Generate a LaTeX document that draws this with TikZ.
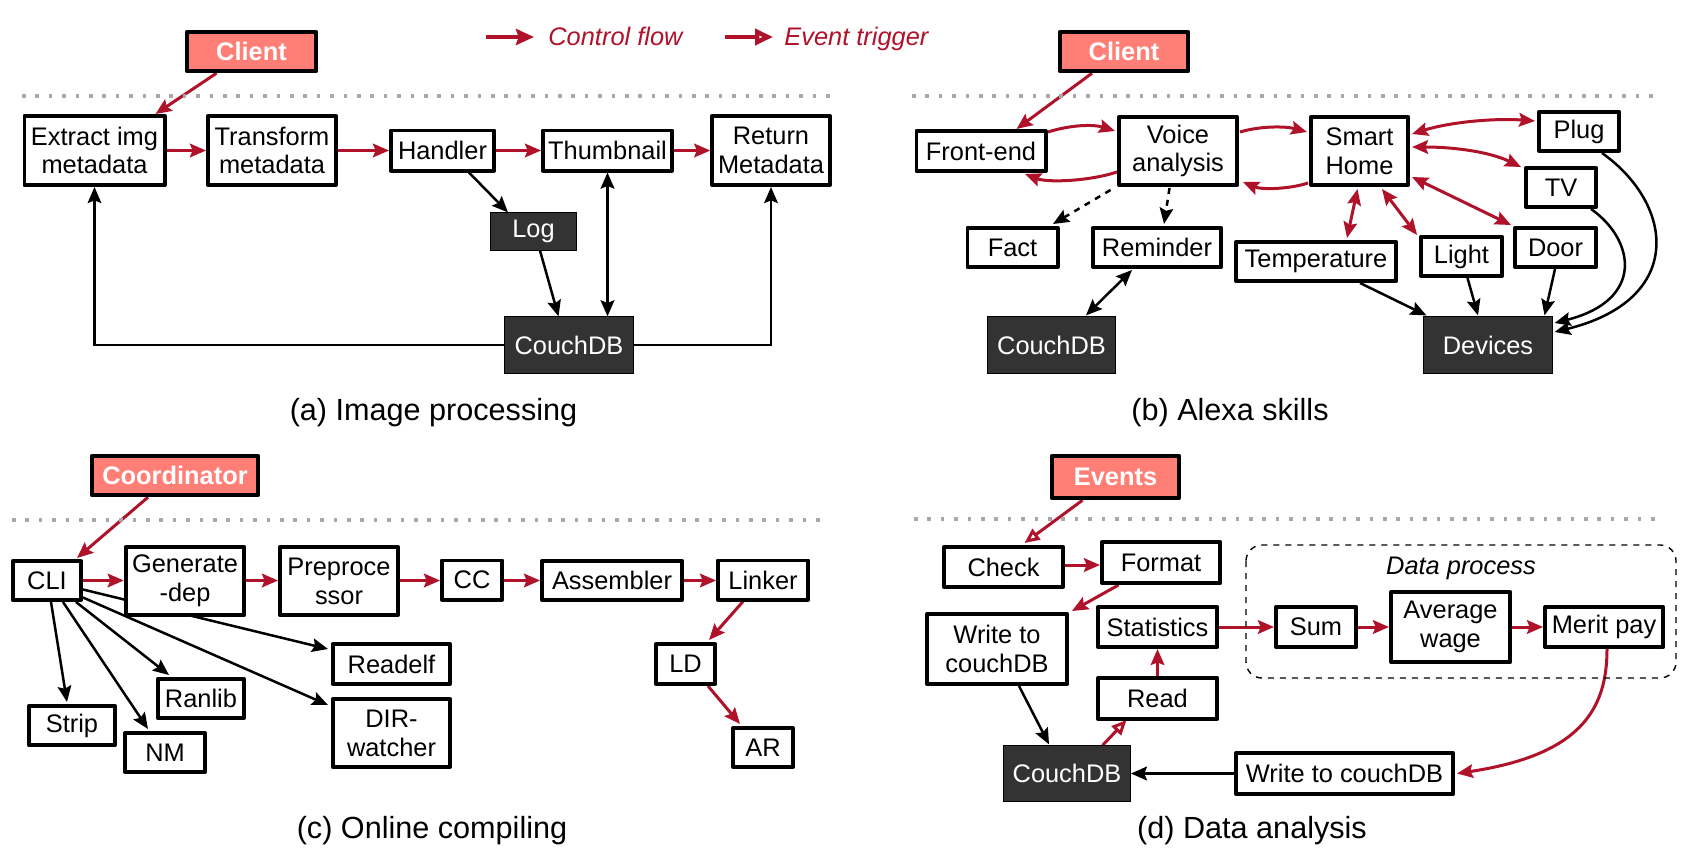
\documentclass[tikz,border=0pt]{standalone}
\usepackage{fontspec}
\setmainfont{Liberation Sans}
\usetikzlibrary{arrows.meta,calc,backgrounds}
\definecolor{crim}{HTML}{B0122A}
\definecolor{salm}{HTML}{FF7F77}
\definecolor{dark}{HTML}{333333}
\definecolor{dotg}{HTML}{A8A8A8}
\newcommand\fsbox{\fontsize{12.7}{14.4}\selectfont}
\newcommand\fscap{\fontsize{15.3}{18}\selectfont}
\tikzset{
  box/.style={draw=black, line width=1.9pt, line join=round, fill=white, inner sep=0pt, align=center, font=\fsbox},
  src/.style={draw=black, line width=2.1pt, line join=round, fill=salm, inner sep=0pt, text=white, font=\fsbox\bfseries},
  dbox/.style={draw=black, line width=0.5pt, fill=dark, inner sep=0pt, text=white, font=\fsbox},
  sz/.style 2 args={minimum width=#1*0.5pt-1.9pt, minimum height=#2*0.5pt-1.9pt},
  tip/.tip={Stealth[length=8pt,width=6.8pt,inset=1.3pt]},
  redarr/.style={draw=crim, line width=1.5pt, -tip},
  redboth/.style={draw=crim, line width=1.5pt, tip-tip},
  redtrig/.style={draw=crim, line width=1.5pt, -{Triangle[open,length=7.5pt,width=6.5pt]}},
  blkarr/.style={draw=black, line width=1.25pt, -tip},
  blkboth/.style={draw=black, line width=1.25pt, tip-tip},
  dotline/.style={draw=dotg, line width=1.8pt, dash pattern=on 1.8pt off 4.9pt},
  capt/.style={font=\fscap, inner sep=0pt},
  legtext/.style={font=\fsbox\itshape, text=crim, anchor=base west, inner sep=0pt},
}
\begin{document}
\begin{tikzpicture}[x=0.5pt,y=-0.5pt]
\useasboundingbox (0,0) rectangle (1684,856);

% ---------- legend ----------
\coordinate (l1a) at (486,37); \coordinate (l1b) at (534,37);
\coordinate (l2a) at (725,37); \coordinate (l2b) at (773,37);
\draw[draw=crim, line width=2.2pt, -{Stealth[length=9pt,width=8pt,inset=1.3pt]}] (l1a) -- (l1b);
\node[legtext] (lt1) at (548,46) {Control flow};
\draw[draw=crim, line width=2.2pt, -{Triangle[open,length=9pt,width=8pt]}] (l2a) -- (l2b);
\node[legtext] (lt2) at (784,46) {Event trigger};

% ---------- dotted separators ----------
\coordinate (da1) at (22,96); \coordinate (da2) at (836,96);
\coordinate (db1) at (912,96); \coordinate (db2) at (1662,96);
\coordinate (dc1) at (12,520); \coordinate (dc2) at (827,520);
\coordinate (dd1) at (914,519); \coordinate (dd2) at (1664,519);
\draw[dotline] (da1) -- (da2);
\draw[dotline] (db1) -- (db2);
\draw[dotline] (dc1) -- (dc2);
\draw[dotline] (dd1) -- (dd2);

% ================= (a) Image processing =================
\node[src, sz={133}{43}] (clientA) at (251.5,51.5) {Client};
\node[box, sz={144}{73}] (ext) at (94.5,150.5) {Extract img\\metadata};
\node[box, sz={132}{73}] (trans) at (272,150.5) {Transform\\metadata};
\node[box, sz={107}{44}] (hand) at (442.5,150.5) {Handler};
\node[box, sz={133}{44}] (thumb) at (607.5,150.5) {Thumbnail};
\node[box, sz={121.5}{73}] (ret) at (771,150.5) {Return\\Metadata};
\node[dbox, sz={89}{41}] (log) at (533.5,231.5) {Log};
\node[dbox, sz={132}{60}] (dbA) at (569,345) {CouchDB};
\node[capt] (capA) at (433.5,413) {(a) Image processing};

% ================= (b) Alexa skills =================
\node[src, sz={132}{43}] (clientB) at (1124,51.5) {Client};
\node[box, sz={133}{44}] (front) at (981,151) {Front-end};
\node[box, sz={122}{72}] (voice) at (1178,151) {Voice\\analysis};
\node[box, sz={101}{72}] (smart) at (1359.5,151) {Smart\\Home};
\node[box, sz={84}{43}] (plug) at (1579,131.5) {Plug};
\node[box, sz={74}{43}] (tv) at (1561,187.5) {TV};
\node[box, sz={85}{43}] (door) at (1555.5,247.5) {Door};
\node[box, sz={85}{43}] (light) at (1461.5,256.5) {Light};
\node[box, sz={164}{43}] (temp) at (1316,261.5) {Temperature};
\node[box, sz={94}{43}] (fact) at (1012.5,247.5) {Fact};
\node[box, sz={132}{43}] (rem) at (1157,247.5) {Reminder};
\node[dbox, sz={131}{60}] (dbB) at (1051.5,345) {CouchDB};
\node[dbox, sz={132}{60}] (dev) at (1488,345) {Devices};
\node[capt] (capB) at (1230,413) {(b) Alexa skills};

% ================= (c) Online compiling =================
\node[src, sz={170}{43}] (coord) at (175,475.5) {Coordinator};
\node[box, sz={72}{43}] (cli) at (47,580.5) {CLI};
\node[box, sz={122.5}{72}] (gen) at (185,581) {Generate\\-dep};
\node[box, sz={122}{72}] (pre) at (339,581) {Preproce\\ssor};
\node[box, sz={64}{43}] (cc) at (472,580) {CC};
\node[box, sz={144}{43}] (asm) at (612,580.5) {Assembler};
\node[box, sz={94}{43}] (link) at (763,580) {Linker};
\node[box, sz={63}{44}] (ld) at (685.5,664) {LD};
\node[box, sz={63.5}{43}] (ar) at (763,747.5) {AR};
\node[box, sz={121}{44}] (readelf) at (391.5,664) {Readelf};
\node[box, sz={121}{72}] (dir) at (391.5,733) {DIR-\\watcher};
\node[box, sz={90}{43}] (ranlib) at (201,698.5) {Ranlib};
\node[box, sz={90}{43}] (strip) at (72,725.5) {Strip};
\node[box, sz={83.5}{43}] (nm) at (165,752.5) {NM};
\node[capt] (capC) at (432,831) {(c) Online compiling};

% ================= (d) Data analysis =================
\draw[dashed, line width=0.7pt, rounded corners=8pt] (1246,545) rectangle (1676,678);
\node[font=\fsbox\itshape, inner sep=0pt] (dplab) at (1461,568) {Data process};
\node[src, sz={131}{46}] (events) at (1115.5,477) {Events};
\node[box, sz={123}{44}] (check) at (1003.5,567) {Check};
\node[box, sz={122}{45}] (format) at (1161,562.5) {Format};
\node[box, sz={144}{74}] (write2) at (997,649) {Write to\\couchDB};
\node[box, sz={123}{44}] (stats) at (1157.5,627) {Statistics};
\node[box, sz={123}{45}] (read) at (1157.5,698.5) {Read};
\node[box, sz={84}{44}] (sum) at (1316,627) {Sum};
\node[box, sz={123}{74}] (avg) at (1450.5,627) {Average\\wage};
\node[box, sz={122}{44}] (merit) at (1604,627) {Merit pay};
\node[dbox, sz={130.5}{59}] (dbD) at (1067,773.5) {CouchDB};
\node[box, sz={221}{45}] (write1) at (1344.5,773.5) {Write to couchDB};
\node[capt] (capD) at (1252,831) {(d) Data analysis};

\begin{pgfonlayer}{background}
\fill[white] (0,0) rectangle (1684,856);
% ---- (a) ----
\draw[redarr] ($(clientA.south)+(-35,0)$) -- ($(ext.north)+(61,0)$);
\draw[redarr] (ext.east) -- (trans.west);
\draw[redarr] (trans.east) -- (hand.west);
\draw[redarr] (hand.east) -- (thumb.west);
\draw[redarr] (thumb.east) -- (ret.west);
\draw[blkarr] ($(hand.south)+(26.5,0)$) -- ($(log.north)+(-25.5,0)$);
\draw[blkarr] ($(log.south)+(6.5,0)$) -- ($(dbA.north)+(-10.5,0)$);
\draw[blkboth, line width=1.6pt] (thumb.south) -- (thumb.south |- dbA.north);
\draw[blkarr] (dbA.west) -| (ext.south);
\draw[blkarr] (dbA.east) -| (ret.south);

% ---- (b) ----
\draw[redarr] ($(clientB.south)+(-32,0)$) -- ($(front.north)+(35.5,0)$);
\draw[redarr] (1048,132) .. controls (1070,125) and (1093,124) .. ($(voice.west)+(-2,-20)$);
\draw[redarr] ($(voice.west)+(0,21)$) .. controls (1090,181) and (1048,183) .. ($(front.south)+(44,1)$);
\draw[redarr] ($(voice.east)+(1,-19)$) .. controls (1260,126) and (1285,126) .. ($(smart.west)+(-2,-19)$);
\draw[redarr] ($(smart.west)+(-1,32)$) .. controls (1290,189) and (1262,190) .. (1243,182);
\draw[redboth] (1412,134) .. controls (1450,122) and (1495,118) .. ($(plug.west)+(-2,-10.5)$);
\draw[redboth] (1412,147) .. controls (1455,147) and (1490,152) .. ($(tv.north west)+(-3,1)$);
\draw[redboth] (1412,177) -- ($(door.north west)+(-2,-1)$);
\draw[redboth] ($(smart.south)+(22.5,2)$) -- ($(light.north west)+(-2,0)$);
\draw[redboth] ($(smart.south)+(-2,2)$) -- ($(temp.north)+(31,-2)$);
\draw[blkarr, dashed] ($(voice.south)+(-67.5,3)$) -- ($(fact.north)+(40.5,-2)$);
\draw[blkarr, dashed] ($(voice.south)+(-8.5,1)$) -- ($(rem.north)+(7,-2)$);
\draw[blkboth] ($(rem.south)+(-25,1)$) -- ($(dbB.north)+(34.5,-1)$);
\draw[blkarr] ($(temp.south)+(44,0)$) -- ($(dev.north west)+(3,-1)$);
\draw[blkarr] ($(light.south)+(6,0)$) -- ($(dev.north)+(-10,-1)$);
\draw[blkarr] ($(door.south)+(-0.5,0)$) -- ($(dev.north)+(56.5,-1)$);
\draw[blkarr] ($(tv.south)+(30,0)$) .. controls (1635,240) and (1645,300) .. ($(dev.east)+(2,-22)$);
\draw[blkarr] ($(plug.south)+(23,0)$) .. controls (1675,205) and (1685,300) .. ($(dev.east)+(2,-13)$);

% ---- (c) ----
\draw[redarr] ($(coord.south)+(-27,0)$) -- ($(cli.north)+(30,-1)$);
\draw[redarr] (cli.east) -- (gen.west |- cli.east);
\draw[redarr] (gen.east |- cli.east) -- (pre.west |- cli.east);
\draw[redarr] (pre.east |- cli.east) -- (cc.west |- cli.east);
\draw[redarr] (cc.east |- cli.east) -- (asm.west |- cli.east);
\draw[redarr] (asm.east |- cli.east) -- (link.west |- cli.east);
\draw[redarr] ($(link.south)+(-20,0)$) -- ($(ld.north)+(23.5,-2)$);
\draw[redarr] ($(ld.south)+(22.5,0)$) -- ($(ar.north)+(-23,-2)$);
\draw[blkarr] ($(cli.south)+(4,0)$) -- ($(strip.north)+(-5,-2)$);
\draw[blkarr] ($(cli.south)+(16,0)$) -- ($(nm.north)+(-17,-2)$);
\draw[blkarr] ($(cli.south)+(29,0)$) -- ($(ranlib.north)+(-32,-2)$);
\draw[blkarr] ($(cli.east)+(0,17)$) -- ($(dir.north west)+(-3,8)$);
\draw[blkarr] ($(cli.east)+(0,9)$) -- ($(readelf.west)+(-3,-15)$);

% ---- (d) ----
\draw[redtrig] ($(events.south)+(-33,0)$) -- ($(check.north)+(21,-2)$);
\draw[redarr] ($(check.east)+(0,-2)$) -- ($(format.west)+(0,2.5)$);
\draw[redarr] ($(format.south)+(-42.5,0)$) -- ($(write2.north east)+(3,-1)$);
\draw[redarr] (stats.east) -- (sum.west);
\draw[redarr] (sum.east) -- (avg.west);
\draw[redarr] (avg.east) -- (merit.west);
\draw[redarr] (read.north) -- (stats.south);
\draw[blkarr] ($(write2.south)+(22,0)$) -- ($(dbD.north)+(-18,-1)$);
\draw[redtrig] ($(dbD.north)+(35.5,0)$) -- ($(read.south)+(-31,-1)$);
\draw[redarr] ($(merit.south)+(3,0)$) .. controls (1607,710) and (1580,755) .. ($(write1.east)+(2,0)$);
\draw[blkarr, line width=1.9pt] (write1.west) -- (dbD.east);
\end{pgfonlayer}
\end{tikzpicture}
\end{document}
